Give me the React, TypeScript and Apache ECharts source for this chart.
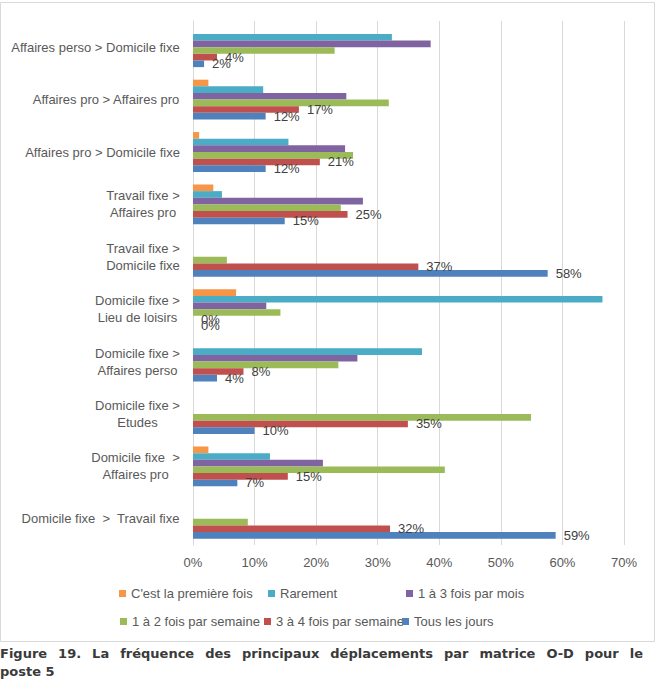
import React, { useEffect, useRef } from "react";
import * as echarts from "echarts";

// Categories from bottom to top (ECharts y category axis order)
const categories: string[] = [
  "Domicile fixe  >  Travail fixe",
  "Domicile fixe  >\nAffaires pro",
  "Domicile fixe >\nEtudes",
  "Domicile fixe >\nAffaires perso",
  "Domicile fixe >\nLieu de loisirs",
  "Travail fixe >\nDomicile fixe",
  "Travail fixe >\nAffaires pro",
  "Affaires pro > Domicile fixe",
  "Affaires pro > Affaires pro",
  "Affaires perso > Domicile fixe",
];

const seriesNames: string[] = [
  "C'est la première fois",
  "Rarement",
  "1 à 3 fois par mois",
  "1 à 2 fois par semaine",
  "3 à 4 fois par semaine",
  "Tous les jours",
];

const premiereFois: number[] = [0, 2.5, 0, 0, 7.0, 0, 3.3, 1.0, 2.5, 0];
const rarement: number[] = [0, 12.5, 0, 37.2, 66.5, 0, 4.7, 15.5, 11.4, 32.3];
const unATroisMois: number[] = [0, 21.1, 0, 26.7, 11.9, 0, 27.6, 24.7, 24.9, 38.6];
const unADeuxSemaine: number[] = [8.9, 40.9, 54.9, 23.6, 14.2, 5.5, 24.0, 26.0, 31.8, 23.0];
const troisAQuatreSemaine: number[] = [32.0, 15.4, 34.9, 8.2, 0, 36.6, 25.1, 20.6, 17.2, 3.9];
const tousLesJours: number[] = [58.9, 7.2, 10.0, 3.9, 0, 57.6, 14.9, 11.8, 11.8, 1.8];

const xTicks: number[] = [0, 10, 20, 30, 40, 50, 60, 70];

const colors: string[] = ["#F79646", "#4BACC6", "#8064A2", "#9BBB59", "#C0504D", "#4F81BD"];

const captionLine1 = "Figure 19. La fréquence des principaux déplacements par matrice O-D pour le";
const captionLine2 = "poste 5";

const FONT = '"Liberation Sans", Arial, sans-serif';
const CAPTION_FONT = 'bold 13px "DejaVu Sans", Verdana, sans-serif';

export default function App() {
  const ref = useRef<HTMLDivElement>(null);

  useEffect(() => {
    if (!ref.current) return;
    const chart = echarts.init(ref.current, undefined, { renderer: "svg" });

    const canvas = document.createElement("canvas");
    const ctx = canvas.getContext("2d")!;

    // y-axis labels: center wrapped lines within a right-aligned block
    ctx.font = `13px ${FONT}`;
    const rich: Record<string, any> = {};
    categories.forEach((c, i) => {
      const w = Math.max(...c.split("\n").map((l) => ctx.measureText(l).width));
      rich["b" + i] = {
        width: Math.ceil(w),
        align: "center",
        fontSize: 13,
        fontFamily: FONT,
        color: "#595959",
        lineHeight: 17,
      };
    });

    // justified caption first line
    ctx.font = CAPTION_FONT;
    const words = captionLine1.split(" ");
    const wordsW = words.reduce((s, w) => s + ctx.measureText(w).width, 0);
    const justifyWidth = 643;
    const gap = Math.max(4, (justifyWidth - wordsW) / (words.length - 1));
    const captionRich: Record<string, any> = {
      w: { font: CAPTION_FONT, fill: "#3a3a3a", lineHeight: 18 },
      g: { font: CAPTION_FONT, width: gap, lineHeight: 18 },
    };
    const captionText =
      words.map((w) => `{w|${w}}`).join("{g| }") + "\n" + `{w|${captionLine2}}`;

    const allData = [premiereFois, rarement, unATroisMois, unADeuxSemaine, troisAQuatreSemaine, tousLesJours];

    const series = seriesNames.map((name, i) => ({
      name,
      type: "bar" as const,
      data: allData[i],
      barGap: "0%",
      barCategoryGap: "24%",
      itemStyle: { color: colors[i] },
      label:
        i >= 4
          ? {
              show: true,
              position: "right" as const,
              distance: 8,
              color: "#404040",
              fontSize: 13,
              fontFamily: FONT,
              formatter: (p: any) => Math.round(p.value) + "%",
            }
          : { show: false },
    }));

    const legendPos = [
      { left: 119, top: 587 },
      { left: 268, top: 587 },
      { left: 406, top: 587 },
      { left: 120, top: 615 },
      { left: 264, top: 615 },
      { left: 402, top: 615 },
    ];

    chart.setOption({
      animation: false,
      backgroundColor: "#ffffff",
      grid: { left: 193, right: 38, top: 21, bottom: 143, containLabel: false },
      xAxis: {
        type: "value",
        min: xTicks[0],
        max: xTicks[xTicks.length - 1],
        interval: xTicks[1] - xTicks[0],
        axisLine: { show: false },
        axisTick: { show: false },
        splitLine: { show: true, lineStyle: { color: "#d9d9d9", width: 1 } },
        axisLabel: {
          color: "#595959",
          fontSize: 13,
          fontFamily: FONT,
          margin: 11,
          formatter: "{value}%",
        },
      },
      yAxis: {
        type: "category",
        data: categories,
        axisLine: { show: true, lineStyle: { color: "#d9d9d9" } },
        axisTick: { show: false },
        axisLabel: {
          interval: 0,
          margin: 13,
          align: "right",
          color: "#595959",
          fontSize: 13,
          fontFamily: FONT,
          formatter: (v: string, idx: number) =>
            v
              .split("\n")
              .map((l) => `{b${idx}|${l}}`)
              .join("\n"),
          rich,
        },
      },
      legend: seriesNames.map((n, i) => ({
        data: [n],
        left: legendPos[i].left,
        top: legendPos[i].top,
        padding: 0,
        icon: "rect",
        itemWidth: 7,
        itemHeight: 7,
        selectedMode: false,
        textStyle: { color: "#595959", fontSize: 13, fontFamily: FONT },
      })),
      series,
      graphic: [
        {
          type: "rect",
          shape: { x: 0.5, y: 2.5, width: 654, height: 639 },
          style: { fill: "none", stroke: "#d9d9d9", lineWidth: 1 },
          silent: true,
        },
        {
          type: "text",
          x: 0,
          y: 644,
          style: {
            text: captionText,
            rich: captionRich,
            font: CAPTION_FONT,
            fill: "#3a3a3a",
            lineHeight: 18,
          },
          silent: true,
        },
      ],
    });

    return () => chart.dispose();
  }, []);

  return (
    <div
      ref={ref}
      style={{ position: "absolute", left: 0, top: 0, width: 662, height: 688, background: "#fff" }}
    />
  );
}
